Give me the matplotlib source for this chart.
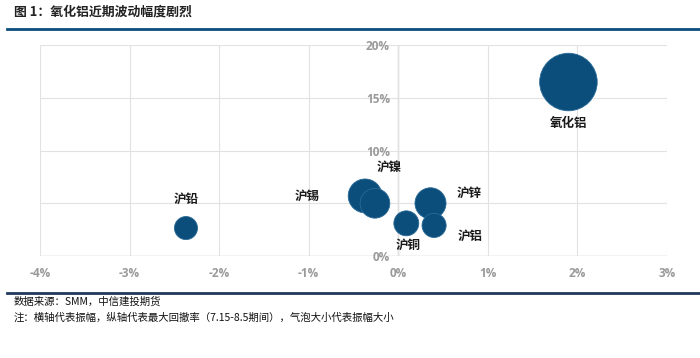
import numpy as np
import matplotlib
matplotlib.use('Agg')
import matplotlib.pyplot as plt
from matplotlib.ticker import FuncFormatter

plt.rcParams['font.family'] = ['Noto Sans CJK SC', 'DejaVu Sans']

# 数据：横轴振幅(%)，纵轴最大回撤率(%)，气泡大小
names = ['氧化铝', '沪铅', '沪锡', '沪镍', '沪锌', '沪铝', '沪铜']
x_amp = [1.90, -2.37, -0.37, -0.26, 0.36, 0.40, 0.09]
y_dd = [16.5, 2.65, 5.7, 5.0, 5.0, 2.9, 3.1]
bubble = [16.5, 2.65, 5.7, 4.4, 4.8, 2.9, 3.1]

x_ticks = [-4, -3, -2, -1, 0, 1, 2, 3]
y_ticks = [0, 5, 10, 15, 20]

# 标签偏移(points)
offsets = {'氧化铝': (0, -30), '沪铅': (0, 21), '沪锡': (-42, 0), '沪镍': (10, 26),
           '沪锌': (28, 7), '沪铝': (26, -8), '沪铜': (1, -16)}

fig = plt.figure(figsize=(7, 3.58), dpi=100)
ax = fig.add_axes([0.0571, 0.2849, 0.8957, 0.5891])

blue = '#0b4e7b'
ax.scatter(x_amp, y_dd, s=[b * 104 for b in bubble], color=blue, edgecolors='#2a6a96',
           linewidths=0.6, zorder=3)

for n, xv, yv in zip(names, x_amp, y_dd):
    dx, dy = offsets[n]
    ax.annotate(n, (xv, yv), xytext=(dx, dy), textcoords='offset points',
                ha='center', va='center', fontsize=9, fontweight='bold', color='#1a1a1a', zorder=4)

ax.set_xlim(-4, 3)
ax.set_ylim(0, 20)
ax.set_xticks(x_ticks)
ax.set_yticks(y_ticks)
ax.xaxis.set_major_formatter(FuncFormatter(lambda v, p: '%d%%' % v))
ax.yaxis.set_major_formatter(FuncFormatter(lambda v, p: '%d%%' % v))
ax.grid(True, color='#e2e2e2', linewidth=0.8, zorder=0)
for s in ax.spines.values():
    s.set_visible(False)
ax.axhline(0, color='#cccccc', linewidth=1.0, zorder=1)
ax.axvline(0, color='#cccccc', linewidth=1.0, zorder=1)
ax.tick_params(length=0, labelsize=8.5, labelcolor='#9a9a9a')
ax.tick_params(axis='x', pad=8)
for lab in ax.get_xticklabels() + ax.get_yticklabels():
    lab.set_fontweight('bold')
    lab.set_family(['Open Sans', 'DejaVu Sans'])

# y 轴标签放在 0% 竖线左侧
ax.yaxis.set_tick_params(pad=-252)

# 标题与分隔线
fig.text(14 / 700, 1 - 12 / 358, '图 1：氧化铝近期波动幅度剧烈', fontsize=9.3, fontweight='bold',
         color='#222222', va='center', ha='left')
fig.add_artist(plt.Line2D([7 / 700, 1.0], [1 - 29 / 358] * 2, color='#0b4e7b', linewidth=2))
fig.add_artist(plt.Line2D([7 / 700, 1.0], [1 - 293 / 358] * 2, color='#1f3a5c', linewidth=2))

fig.text(14 / 700, 1 - 302 / 358, '数据来源：SMM，中信建投期货', fontsize=7.5, color='#111111',
         va='center', ha='left', style='italic')
fig.text(14 / 700, 1 - 318 / 358, '注：横轴代表振幅，纵轴代表最大回撤率（7.15-8.5期间），气泡大小代表振幅大小',
         fontsize=7.5, color='#111111', va='center', ha='left', style='italic')

fig.savefig('out.png', dpi=100, facecolor='white')
